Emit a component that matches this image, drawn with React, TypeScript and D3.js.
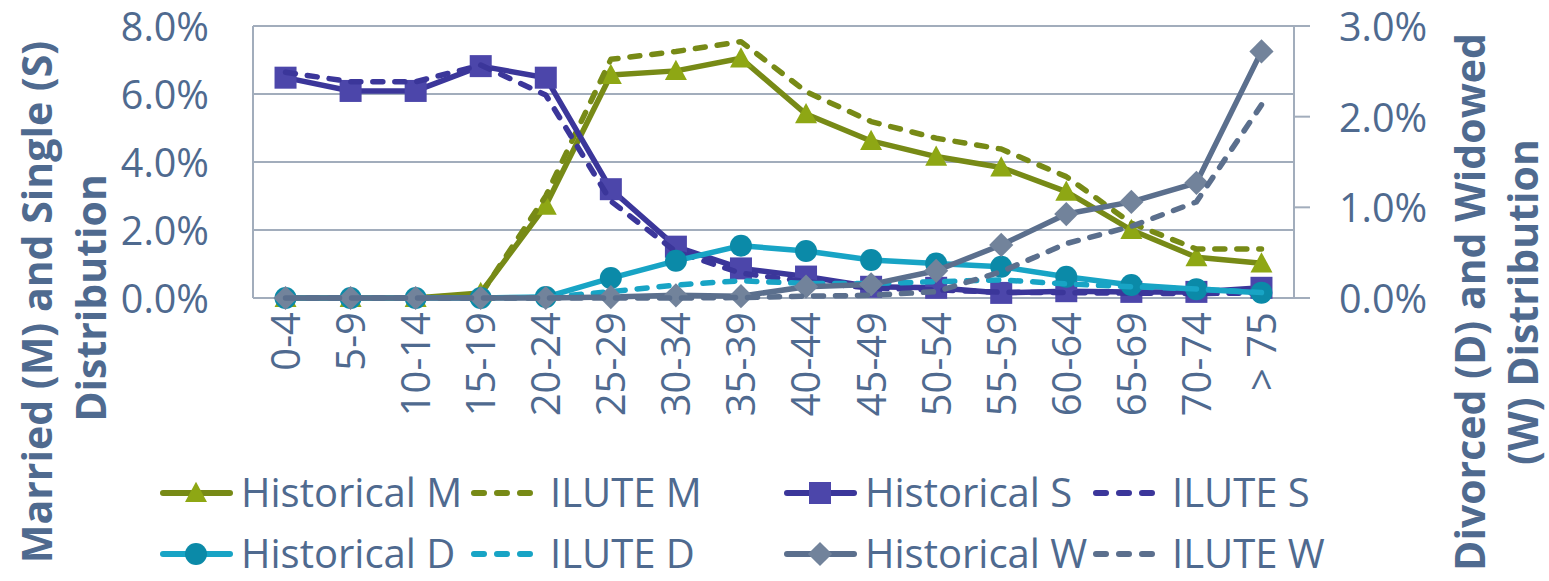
import React from 'react';
import * as d3 from 'd3';

const categories = ['0-4', '5-9', '10-14', '15-19', '20-24', '25-29', '30-34', '35-39', '40-44', '45-49', '50-54', '55-59', '60-64', '65-69', '70-74', '> 75'];
// Left axis (Married / Single), percent
const historicalM = [0, 0, 0, 0.15, 2.72, 6.56, 6.68, 7.05, 5.41, 4.62, 4.16, 3.84, 3.13, 2.0, 1.2, 1.02];
const iluteM = [0, 0, 0, 0.1, 3.0, 7.02, 7.25, 7.54, 6.07, 5.19, 4.7, 4.38, 3.57, 2.2, 1.44, 1.44];
const historicalS = [6.48, 6.09, 6.09, 6.82, 6.48, 3.2, 1.51, 0.87, 0.63, 0.33, 0.3, 0.15, 0.2, 0.18, 0.18, 0.3];
const iluteS = [6.64, 6.36, 6.36, 6.85, 5.97, 2.85, 1.36, 0.73, 0.48, 0.29, 0.24, 0.17, 0.16, 0.14, 0.13, 0.15];
// Right axis (Divorced / Widowed), percent
const historicalD = [0, 0, 0, 0, 0.01, 0.22, 0.41, 0.577, 0.518, 0.42, 0.38, 0.345, 0.235, 0.143, 0.096, 0.059];
const iluteD = [0, 0, 0, 0, 0.005, 0.07, 0.143, 0.19, 0.16, 0.16, 0.18, 0.2, 0.155, 0.125, 0.1, 0.06];
const historicalW = [0, 0, 0, 0, 0, 0.01, 0.03, 0.02, 0.125, 0.15, 0.3, 0.585, 0.926, 1.06, 1.27, 2.72];
const iluteW = [0, 0, 0, 0, 0, 0, 0, 0.005, 0.02, 0.03, 0.07, 0.29, 0.6, 0.79, 1.06, 2.13];

const leftTicks = [0, 2, 4, 6, 8];
const rightTicks = [0, 1, 2, 3];

const TEXT = '#4f6a8f';
const GRID = '#a2adbc';
const FONT = '"Open Sans", "Noto Sans", sans-serif';

type Marker = 'triangle' | 'square' | 'circle' | 'diamond' | 'none';
interface Series {
  name: string;
  values: number[];
  axis: 'L' | 'R';
  line: string;
  fill: string;
  dashed: boolean;
  marker: Marker;
}

const series: Series[] = [
  { name: 'Historical M', values: historicalM, axis: 'L', line: '#778a16', fill: '#8ea714', dashed: false, marker: 'triangle' },
  { name: 'ILUTE M', values: iluteM, axis: 'L', line: '#778a16', fill: '#778a16', dashed: true, marker: 'none' },
  { name: 'Historical S', values: historicalS, axis: 'L', line: '#3b369a', fill: '#4c46aa', dashed: false, marker: 'square' },
  { name: 'ILUTE S', values: iluteS, axis: 'L', line: '#3b369a', fill: '#3b369a', dashed: true, marker: 'none' },
  { name: 'Historical D', values: historicalD, axis: 'R', line: '#18a4c5', fill: '#0b8aa8', dashed: false, marker: 'circle' },
  { name: 'ILUTE D', values: iluteD, axis: 'R', line: '#18a4c5', fill: '#18a4c5', dashed: true, marker: 'none' },
  { name: 'Historical W', values: historicalW, axis: 'R', line: '#5b6f8d', fill: '#72839b', dashed: false, marker: 'diamond' },
  { name: 'ILUTE W', values: iluteW, axis: 'R', line: '#5b6f8d', fill: '#5b6f8d', dashed: true, marker: 'none' },
];

const legendLayout = [
  { x: 160, y: 493 }, { x: 471, y: 493 }, { x: 784, y: 493 }, { x: 1093, y: 493 },
  { x: 160, y: 554 }, { x: 471, y: 554 }, { x: 784, y: 554 }, { x: 1093, y: 554 },
];

function markerShape(m: Marker, x: number, y: number, s: number, fill: string, key?: string) {
  if (m === 'triangle') {
    const h = s * 0.92;
    return <path key={key} d={`M${x},${y - h * 0.55} L${x + s / 2},${y + h * 0.45} L${x - s / 2},${y + h * 0.45} Z`} fill={fill} />;
  }
  if (m === 'square') return <rect key={key} x={x - s / 2} y={y - s / 2} width={s} height={s} fill={fill} />;
  if (m === 'circle') return <circle key={key} cx={x} cy={y} r={s / 2} fill={fill} />;
  if (m === 'diamond') {
    const r = s * 0.55;
    return <path key={key} d={`M${x},${y - r} L${x + r},${y} L${x},${y + r} L${x - r},${y} Z`} fill={fill} />;
  }
  return null;
}

export default function App() {
  const left = 253, right = 1294, top = 26, bottom = 298;
  const x = d3.scaleBand<string>().domain(categories).range([left, right]);
  const cx = (c: string) => (x(c) as number) + x.bandwidth() / 2;
  const yL = d3.scaleLinear().domain([0, 8]).range([bottom, top]);
  const yR = d3.scaleLinear().domain([0, 3]).range([bottom, top]);
  const fmt = (v: number) => v.toFixed(1) + '%';

  return (
    <div style={{ position: 'absolute', left: 0, top: 0 }}>
      <svg width={1549} height={581} style={{ display: 'block', fontFamily: FONT }}>
        <rect width={1549} height={581} fill="#fff" />
        {/* gridlines */}
        {leftTicks.map((t) => (
          <line key={'g' + t} x1={left} x2={right} y1={yL(t)} y2={yL(t)} stroke={GRID} strokeWidth={2} />
        ))}
        <line x1={left} x2={left} y1={top} y2={bottom} stroke={GRID} strokeWidth={2} />
        <line x1={right} x2={right} y1={top} y2={bottom} stroke={GRID} strokeWidth={2} />
        {rightTicks.map((t) => (
          <line key={'rt' + t} x1={right} x2={right + 16} y1={yR(t)} y2={yR(t)} stroke={GRID} strokeWidth={2} />
        ))}
        {/* tick labels */}
        {leftTicks.map((t) => (
          <text key={'lt' + t} x={209} y={yL(t) + 15} textAnchor="end" fontSize={39.5} fill={TEXT}>{fmt(t)}</text>
        ))}
        {rightTicks.map((t) => (
          <text key={'rl' + t} x={1339} y={yR(t) + 15} textAnchor="start" fontSize={39.5} fill={TEXT}>{fmt(t)}</text>
        ))}
        {/* category labels */}
        {categories.map((c) => (
          <text key={'c' + c} transform={`translate(${cx(c)},${312}) rotate(-90)`} dy="0.36em" textAnchor="end" fontSize={40} fill={TEXT}>{c}</text>
        ))}
        {/* series */}
        {series.map((s, si) => {
          const yS = s.axis === 'L' ? yL : yR;
          const line = d3.line<number>().x((_, i) => cx(categories[i])).y((v) => yS(v));
          return (
            <g key={'s' + si}>
              <path d={line(s.values) || ''} fill="none" stroke={s.line} strokeWidth={5.5}
                strokeLinecap="round" strokeLinejoin="round" strokeDasharray={s.dashed ? '10 12' : undefined} />
              {s.values.map((v, i) => markerShape(s.marker, cx(categories[i]), yS(v), 22, s.fill, 'm' + i))}
            </g>
          );
        })}
        {/* axis titles */}
        <text transform="translate(52,302) rotate(-90)" textAnchor="middle" fontSize={41} fontWeight="bold" fill={TEXT}>Married (M) and Single (S)</text>
        <text transform="translate(106,298) rotate(-90)" textAnchor="middle" fontSize={41} fontWeight="bold" fill={TEXT}>Distribution</text>
        <text transform="translate(1485,302) rotate(-90)" textAnchor="middle" fontSize={41} fontWeight="bold" fill={TEXT}>Divorced (D) and Widowed</text>
        <text transform="translate(1538,302) rotate(-90)" textAnchor="middle" fontSize={41} fontWeight="bold" fill={TEXT}>(W) Distribution</text>
        {/* legend */}
        {series.map((s, k) => {
          const p = legendLayout[k];
          const w = 70;
          return (
            <g key={'lg' + k}>
              <line x1={p.x + 3} x2={s.dashed ? p.x + 61 : p.x + w} y1={p.y} y2={p.y} stroke={s.line} strokeWidth={6}
                strokeLinecap="round" strokeDasharray={s.dashed ? '10 13' : undefined} />
              {markerShape(s.marker, p.x + 36, p.y, 22, s.fill)}
              <text x={s.dashed ? p.x + 79 : p.x + 81} y={p.y} dy="0.36em" fontSize={40} fill={TEXT}>{s.name}</text>
            </g>
          );
        })}
      </svg>
    </div>
  );
}
